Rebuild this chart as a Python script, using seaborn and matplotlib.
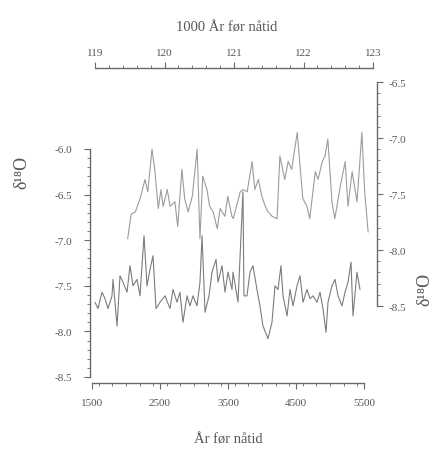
import numpy as np
import pandas as pd
import matplotlib
matplotlib.use("Agg")
import matplotlib.pyplot as plt
from matplotlib.ticker import MultipleLocator
import seaborn as sns

# Holocene series (bottom axis: years before present, left axis)
holo_years = [1544, 1588, 1647, 1691, 1735, 1794, 1809, 1868, 1912, 1956,
              2015, 2059, 2103, 2162, 2206, 2265, 2309, 2353, 2397, 2441,
              2500, 2574, 2647, 2691, 2750, 2794, 2838, 2897, 2941, 2985,
              3044, 3088, 3118, 3162, 3221, 3265, 3324, 3353, 3412, 3456,
              3500, 3559, 3574, 3647, 3720, 3735, 3779, 3823, 3867, 3926,
              3970, 4014, 4088, 4147, 4191, 4235, 4279, 4309, 4368, 4412,
              4456, 4515, 4559, 4603, 4662, 4706, 4750, 4809, 4853, 4897,
              4941, 4971, 5029, 5074, 5118, 5176, 5221, 5265, 5309, 5338,
              5397, 5441]
holo_d18o = [-7.68, -7.75, -7.57, -7.64, -7.75, -7.61, -7.43, -7.94, -7.39, -7.46,
             -7.57, -7.28, -7.50, -7.43, -7.61, -6.95, -7.50, -7.32, -7.17, -7.75,
             -7.68, -7.61, -7.75, -7.54, -7.68, -7.57, -7.90, -7.61, -7.72, -7.61,
             -7.72, -7.46, -6.95, -7.79, -7.61, -7.35, -7.21, -7.46, -7.28, -7.57,
             -7.35, -7.54, -7.35, -7.68, -6.47, -7.61, -7.61, -7.35, -7.28, -7.54,
             -7.72, -7.94, -8.08, -7.90, -7.50, -7.54, -7.28, -7.61, -7.83, -7.54,
             -7.72, -7.50, -7.39, -7.68, -7.54, -7.64, -7.61, -7.68, -7.57, -7.75,
             -8.01, -7.68, -7.50, -7.43, -7.61, -7.72, -7.57, -7.46, -7.24, -7.83,
             -7.35, -7.54]

# Eemian series (top axis: 1000 years before present, right axis)
eem_kyr = [119.47, 119.52, 119.58, 119.65, 119.72, 119.76, 119.82, 119.86, 119.91, 119.95,
           119.98, 120.04, 120.08, 120.15, 120.19, 120.25, 120.29, 120.34, 120.40, 120.47,
           120.51, 120.55, 120.61, 120.65, 120.70, 120.76, 120.80, 120.87, 120.91, 120.97,
           120.99, 121.09, 121.13, 121.19, 121.26, 121.30, 121.35, 121.40, 121.45, 121.49,
           121.55, 121.62, 121.66, 121.73, 121.78, 121.83, 121.91, 121.95, 121.99, 122.05,
           122.09, 122.17, 122.21, 122.27, 122.31, 122.35, 122.41, 122.45, 122.53, 122.60,
           122.64, 122.70, 122.77, 122.84, 122.88, 122.93]
eem_d18o = [-7.90, -7.68, -7.66, -7.54, -7.37, -7.48, -7.10, -7.28, -7.63, -7.46,
            -7.61, -7.46, -7.61, -7.57, -7.79, -7.28, -7.54, -7.66, -7.52, -7.10,
            -7.90, -7.34, -7.46, -7.61, -7.66, -7.81, -7.63, -7.70, -7.52, -7.70,
            -7.72, -7.48, -7.46, -7.48, -7.21, -7.46, -7.37, -7.52, -7.61, -7.66,
            -7.70, -7.72, -7.16, -7.37, -7.21, -7.28, -6.95, -7.25, -7.54, -7.61,
            -7.72, -7.30, -7.37, -7.21, -7.16, -7.01, -7.57, -7.72, -7.43, -7.21,
            -7.61, -7.30, -7.57, -6.95, -7.48, -7.84]

bottom_ticks = [1500, 2500, 3500, 4500, 5500]
top_ticks = [119, 120, 121, 122, 123]
left_ticks = [-6.0, -6.5, -7.0, -7.5, -8.0, -8.5]
right_ticks = [-6.5, -7.0, -7.5, -8.0, -8.5]

holo = pd.DataFrame({"year": holo_years, "d18o": holo_d18o})
eem = pd.DataFrame({"kyr": eem_kyr, "d18o": eem_d18o})

sns.set_style("ticks")
plt.rcParams["font.family"] = ["Liberation Serif", "DejaVu Serif"]
plt.rcParams["axes.unicode_minus"] = False

axis_col = "#6a6a6a"
text_col = "#555555"

fig = plt.figure(figsize=(4.41, 4.56), dpi=100)
fig.patch.set_facecolor("white")

# lower (Holocene) axes
ax = fig.add_axes([92 / 441, 1 - 378 / 456, 272 / 441, 228 / 456])
sns.lineplot(data=holo, x="year", y="d18o", ax=ax, color="#7c7c7c", linewidth=0.8)
ax.set_xlim(1500, 5500)
ax.set_ylim(-8.5, -6.0)
ax.set_xticks(bottom_ticks)
ax.set_yticks(left_ticks)
ax.xaxis.set_minor_locator(MultipleLocator(200))
ax.yaxis.set_minor_locator(MultipleLocator(0.1))
ax.set_yticklabels([f"{v:.1f}" for v in left_ticks])
ax.set_xticklabels([str(v) for v in bottom_ticks])
for s in ["top", "right"]:
    ax.spines[s].set_visible(False)
ax.spines["left"].set_position(("outward", 1.5))
ax.spines["bottom"].set_position(("outward", 4))
for s in ["left", "bottom"]:
    ax.spines[s].set_color(axis_col)
    ax.spines[s].set_linewidth(1.0)
ax.tick_params(which="major", length=4, width=0.8, colors=axis_col,
               labelsize=8, labelcolor=text_col, pad=7)
ax.tick_params(axis="y", which="major", pad=9)
ax.tick_params(which="minor", length=2, width=0.6, colors=axis_col)
ax.set_xlabel("År før nåtid", fontsize=10.5, color=text_col)
ax.xaxis.set_label_coords(0.5, -0.245)
ax.set_ylabel("δ¹⁸O", fontsize=13, color=text_col)
ax.yaxis.set_label_coords(-0.228, 0.90)
ax.patch.set_alpha(0)

# upper (Eemian) axes
ax2 = fig.add_axes([95 / 441, 1 - 307 / 456, 278 / 441, 224 / 456])
sns.lineplot(data=eem, x="kyr", y="d18o", ax=ax2, color="#9c9c9c", linewidth=0.8)
ax2.set_xlim(119, 123)
ax2.set_ylim(-8.5, -6.5)
ax2.xaxis.tick_top()
ax2.xaxis.set_label_position("top")
ax2.yaxis.tick_right()
ax2.yaxis.set_label_position("right")
ax2.set_xticks(top_ticks)
ax2.set_yticks(right_ticks)
ax2.xaxis.set_minor_locator(MultipleLocator(0.2))
ax2.yaxis.set_minor_locator(MultipleLocator(0.1))
ax2.set_xticklabels([str(v) for v in top_ticks])
ax2.set_yticklabels([f"{v:.1f}" for v in right_ticks])
for s in ["left", "bottom"]:
    ax2.spines[s].set_visible(False)
ax2.spines["top"].set_visible(True)
ax2.spines["right"].set_visible(True)
ax2.spines["top"].set_position(("outward", 10))
ax2.spines["right"].set_position(("outward", 3))
for s in ["top", "right"]:
    ax2.spines[s].set_color(axis_col)
    ax2.spines[s].set_linewidth(1.0)
ax2.tick_params(which="major", length=4, width=0.8, colors=axis_col,
                labelsize=8, labelcolor=text_col, pad=4)
ax2.tick_params(which="minor", length=2, width=0.6, colors=axis_col)
ax2.set_xlabel("1000 År før nåtid", fontsize=10.5, color=text_col)
ax2.xaxis.set_label_coords(0.475, 1.228)
ax2.set_ylabel("δ¹⁸O", fontsize=13, color=text_col)
ax2.yaxis.set_label_coords(1.155, 0.08)
ax2.patch.set_alpha(0)

fig.savefig("out.png", dpi=100, facecolor="white")
